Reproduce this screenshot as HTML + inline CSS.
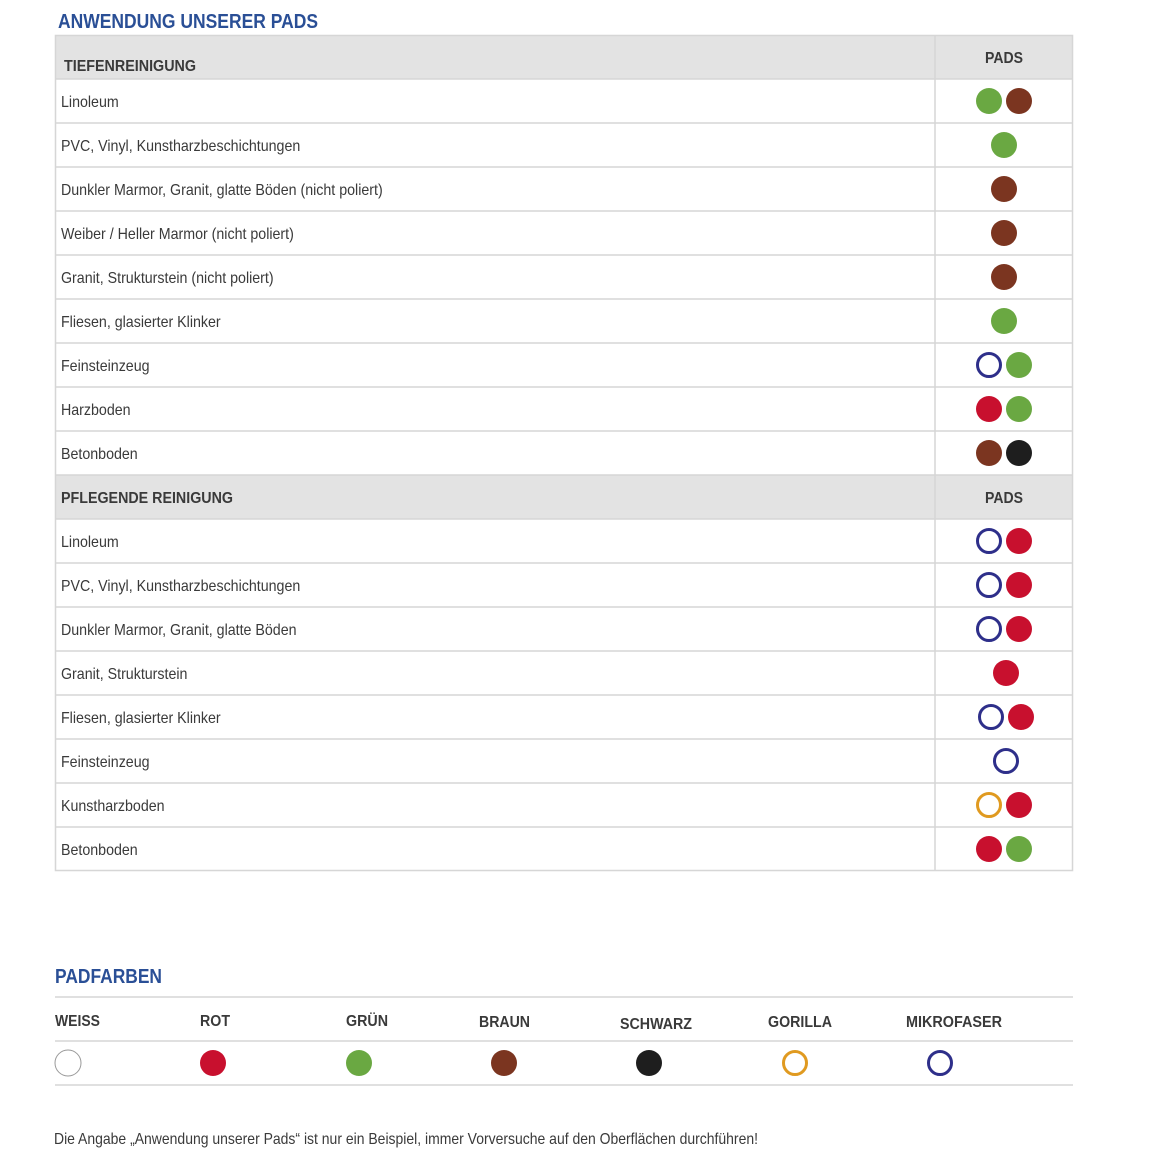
<!DOCTYPE html>
<html><head><meta charset="utf-8"><style>
html,body{margin:0;padding:0;background:#fff}
svg{display:block}
text{font-family:"Liberation Sans",Arial,sans-serif}
</style></head><body>
<svg width="1155" height="1164" viewBox="0 0 1155 1164" xmlns="http://www.w3.org/2000/svg">
<rect width="1155" height="1164" fill="#fff"/>
<text x="58" y="28" font-size="20" font-weight="bold" fill="#2a4f96" textLength="260" lengthAdjust="spacingAndGlyphs">ANWENDUNG UNSERER PADS</text>
<rect x="55" y="35" width="1018" height="44" fill="#e3e3e3"/>
<rect x="55" y="475" width="1018" height="44" fill="#e3e3e3"/>
<g stroke="#d6d6d6" stroke-width="1.5" fill="none">
<rect x="55.5" y="35.5" width="1017" height="835"/>
<line x1="935" y1="35" x2="935" y2="871"/>
<line x1="55" y1="79" x2="1073" y2="79"/><line x1="55" y1="123" x2="1073" y2="123"/>
<line x1="55" y1="167" x2="1073" y2="167"/><line x1="55" y1="211" x2="1073" y2="211"/>
<line x1="55" y1="255" x2="1073" y2="255"/><line x1="55" y1="299" x2="1073" y2="299"/>
<line x1="55" y1="343" x2="1073" y2="343"/><line x1="55" y1="387" x2="1073" y2="387"/>
<line x1="55" y1="431" x2="1073" y2="431"/><line x1="55" y1="475" x2="1073" y2="475"/>
<line x1="55" y1="519" x2="1073" y2="519"/><line x1="55" y1="563" x2="1073" y2="563"/>
<line x1="55" y1="607" x2="1073" y2="607"/><line x1="55" y1="651" x2="1073" y2="651"/>
<line x1="55" y1="695" x2="1073" y2="695"/><line x1="55" y1="739" x2="1073" y2="739"/>
<line x1="55" y1="783" x2="1073" y2="783"/><line x1="55" y1="827" x2="1073" y2="827"/>
</g>
<g font-size="16" font-weight="bold" fill="#3a3a3a">
<text x="64" y="71" textLength="132" lengthAdjust="spacingAndGlyphs">TIEFENREINIGUNG</text>
<text x="985" y="63" textLength="38" lengthAdjust="spacingAndGlyphs">PADS</text>
<text x="61" y="503" textLength="172" lengthAdjust="spacingAndGlyphs">PFLEGENDE REINIGUNG</text>
<text x="985" y="503" textLength="38" lengthAdjust="spacingAndGlyphs">PADS</text>
</g>
<g font-size="16" fill="#3a3a3a" transform="translate(61,0) scale(0.89,1)">
<text x="0" y="107">Linoleum</text>
<text x="0" y="151">PVC, Vinyl, Kunstharzbeschichtungen</text>
<text x="0" y="195">Dunkler Marmor, Granit, glatte Böden (nicht poliert)</text>
<text x="0" y="239">Weiber / Heller Marmor (nicht poliert)</text>
<text x="0" y="283">Granit, Strukturstein (nicht poliert)</text>
<text x="0" y="327">Fliesen, glasierter Klinker</text>
<text x="0" y="371">Feinsteinzeug</text>
<text x="0" y="415">Harzboden</text>
<text x="0" y="459">Betonboden</text>
<text x="0" y="547">Linoleum</text>
<text x="0" y="591">PVC, Vinyl, Kunstharzbeschichtungen</text>
<text x="0" y="635">Dunkler Marmor, Granit, glatte Böden</text>
<text x="0" y="679">Granit, Strukturstein</text>
<text x="0" y="723">Fliesen, glasierter Klinker</text>
<text x="0" y="767">Feinsteinzeug</text>
<text x="0" y="811">Kunstharzboden</text>
<text x="0" y="855">Betonboden</text>
</g>
<g>
<circle cx="989" cy="101" r="13" fill="#6aa842"/><circle cx="1019" cy="101" r="13" fill="#7b3520"/>
<circle cx="1004" cy="145" r="13" fill="#6aa842"/>
<circle cx="1004" cy="189" r="13" fill="#7b3520"/>
<circle cx="1004" cy="233" r="13" fill="#7b3520"/>
<circle cx="1004" cy="277" r="13" fill="#7b3520"/>
<circle cx="1004" cy="321" r="13" fill="#6aa842"/>
<circle cx="989" cy="365" r="11.5" fill="none" stroke="#2e2f8a" stroke-width="3"/><circle cx="1019" cy="365" r="13" fill="#6aa842"/>
<circle cx="989" cy="409" r="13" fill="#c8102e"/><circle cx="1019" cy="409" r="13" fill="#6aa842"/>
<circle cx="989" cy="453" r="13" fill="#7b3520"/><circle cx="1019" cy="453" r="13" fill="#1e1e1e"/>
<circle cx="989" cy="541" r="11.5" fill="none" stroke="#2e2f8a" stroke-width="3"/><circle cx="1019" cy="541" r="13" fill="#c8102e"/>
<circle cx="989" cy="585" r="11.5" fill="none" stroke="#2e2f8a" stroke-width="3"/><circle cx="1019" cy="585" r="13" fill="#c8102e"/>
<circle cx="989" cy="629" r="11.5" fill="none" stroke="#2e2f8a" stroke-width="3"/><circle cx="1019" cy="629" r="13" fill="#c8102e"/>
<circle cx="1006" cy="673" r="13" fill="#c8102e"/>
<circle cx="991" cy="717" r="11.5" fill="none" stroke="#2e2f8a" stroke-width="3"/><circle cx="1021" cy="717" r="13" fill="#c8102e"/>
<circle cx="1006" cy="761" r="11.5" fill="none" stroke="#2e2f8a" stroke-width="3"/>
<circle cx="989" cy="805" r="11.5" fill="none" stroke="#e09a20" stroke-width="3"/><circle cx="1019" cy="805" r="13" fill="#c8102e"/>
<circle cx="989" cy="849" r="13" fill="#c8102e"/><circle cx="1019" cy="849" r="13" fill="#6aa842"/>
</g>
<text x="55" y="983" font-size="20" font-weight="bold" fill="#2a4f96" textLength="107" lengthAdjust="spacingAndGlyphs">PADFARBEN</text>
<g stroke="#d6d6d6" stroke-width="1.5">
<line x1="55" y1="997" x2="1073" y2="997"/>
<line x1="55" y1="1041" x2="1073" y2="1041"/>
<line x1="55" y1="1085" x2="1073" y2="1085"/>
</g>
<g font-size="16" font-weight="bold" fill="#3a3a3a">
<text x="55" y="1026" textLength="45" lengthAdjust="spacingAndGlyphs">WEISS</text>
<text x="200" y="1026" textLength="30" lengthAdjust="spacingAndGlyphs">ROT</text>
<text x="346" y="1026" textLength="42" lengthAdjust="spacingAndGlyphs">GRÜN</text>
<text x="479" y="1027" textLength="51" lengthAdjust="spacingAndGlyphs">BRAUN</text>
<text x="620" y="1029" textLength="72" lengthAdjust="spacingAndGlyphs">SCHWARZ</text>
<text x="768" y="1027" textLength="64" lengthAdjust="spacingAndGlyphs">GORILLA</text>
<text x="906" y="1027" textLength="96" lengthAdjust="spacingAndGlyphs">MIKROFASER</text>
</g>
<circle cx="68" cy="1063" r="13" fill="#fff" stroke="#999" stroke-width="1"/>
<circle cx="213" cy="1063" r="13" fill="#c8102e"/>
<circle cx="359" cy="1063" r="13" fill="#6aa842"/>
<circle cx="504" cy="1063" r="13" fill="#7b3520"/>
<circle cx="649" cy="1063" r="13" fill="#1e1e1e"/>
<circle cx="795" cy="1063" r="11.5" fill="none" stroke="#e09a20" stroke-width="3"/>
<circle cx="940" cy="1063" r="11.5" fill="none" stroke="#2e2f8a" stroke-width="3"/>
<text x="54" y="1144" font-size="16" fill="#3a3a3a" textLength="704" lengthAdjust="spacingAndGlyphs">Die Angabe „Anwendung unserer Pads“ ist nur ein Beispiel, immer Vorversuche auf den Oberflächen durchführen!</text>
</svg>
</body></html>
